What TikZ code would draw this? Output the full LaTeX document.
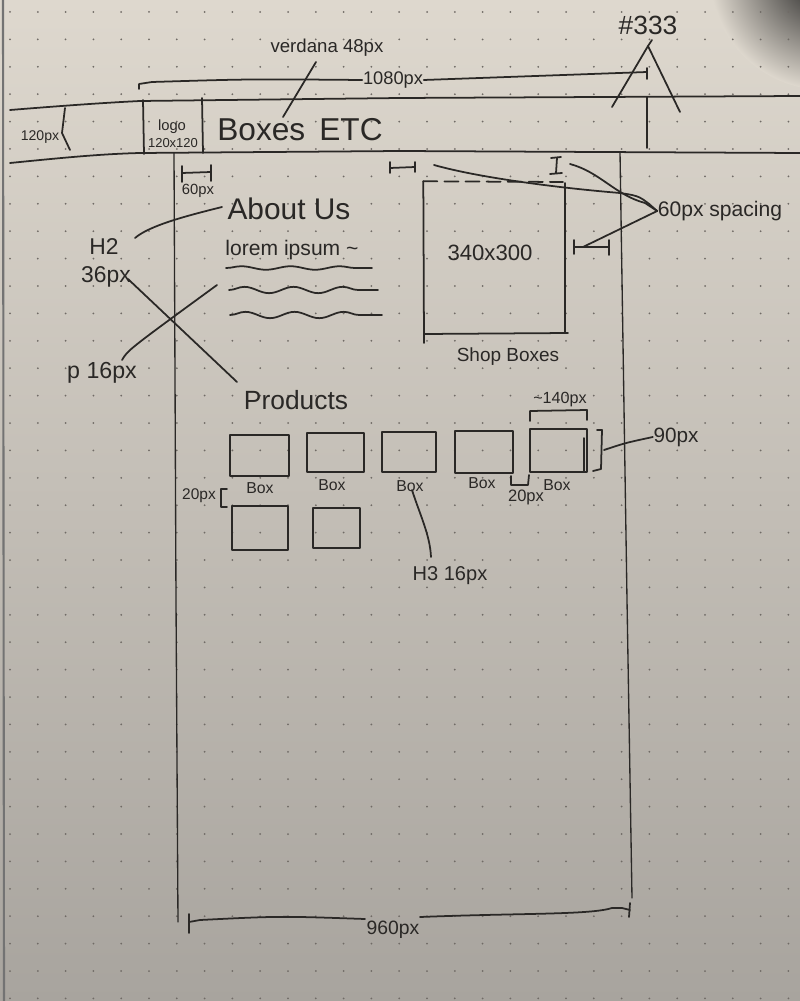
\documentclass[tikz,border=0pt]{standalone}
\usepackage{fontspec}
\setmainfont{Liberation Sans}
\usetikzlibrary{decorations.pathmorphing,calc}
\definecolor{paperTop}{RGB}{222,216,206}
\definecolor{paperBot}{RGB}{168,164,158}
\definecolor{ink}{RGB}{42,40,38}
\definecolor{dotc}{RGB}{112,107,102}
\newcommand{\hfs}[1]{\fontsize{#1pt}{#1pt}\selectfont}
\begin{document}
\begin{tikzpicture}[x=0.1mm,y=-0.1mm,
  inkline/.style={draw=ink, line width=0.5pt, line cap=round, line join=round},
  thinink/.style={draw=ink, line width=0.38pt, line cap=round, line join=round},
  lbl/.style={text=ink, inner sep=0pt, anchor=center},
  pbox/.style={inkline, inner sep=0pt},
  wave/.style={inkline, decorate, decoration={snake, amplitude=#1, segment length=14pt}}]
\useasboundingbox (0,0) rectangle (800,1001);
% paper
\shade[top color=paperTop, bottom color=paperBot] (0,0) rectangle (800,1001);
\begin{scope}
\clip (0,0) rectangle (800,1001);
\shade[inner color=black!90, outer color=paperTop] (825,-25) circle (115);
\end{scope}
\draw[black!55, line width=0.6pt] (3,0) -- (4,1001);
\foreach \i in {0,...,28}
  \foreach \j in {0,...,36}
    \fill[dotc] ({10+27.8*\i},{12+27.4*\j}) circle (1);

% header band
\draw[inkline] (10,110) .. controls (60,106) and (100,103) .. (140,101) -- (400,98) -- (800,96);
\draw[inkline] (10,163) .. controls (60,158) and (100,154) .. (140,153) -- (400,151) -- (800,153);
\draw[inkline] (143,100) -- (144,154);
\draw[inkline] (202,98) -- (203,153);
\draw[inkline] (647,97) -- (647,148);

% header texts
\node[lbl, font=\hfs{9}] (title) at (300,130) {Boxes\hspace{4pt}ETC};
\node[lbl, font=\hfs{4.2}] (logo) at (172,127) {logo};
\node[lbl, font=\hfs{3.7}] (logosize) at (173,143) {120x120};
\node[lbl, font=\hfs{4}] (h120) at (40,137) {120px};
\draw[inkline] (65,108) .. controls (63,120) .. (62,133) -- (70,150);

\node[lbl, font=\hfs{5.3}] (verdana) at (327,48) {verdana 48px};
\coordinate (vA) at (316,62);
\coordinate (vB) at (283,117);
\draw[inkline] (vA) -- (vB);

% 1080px dimension
\node[lbl, font=\hfs{5.2}] (w1080) at (393,80) {1080px};
\coordinate (d1080L) at (139,84);
\coordinate (d1080R) at (647,72);
\draw[inkline] (139,89) -- (d1080L) -- (152,82) .. controls (250,79) .. (w1080.west);
\draw[inkline] (w1080.east) -- (d1080R);
\draw[inkline] (647,68) -- (647,79);

% #333
\node[lbl, font=\hfs{7.5}] (c333) at (648,25) {\#333};
\coordinate (capL) at (612,107);
\coordinate (capT) at (648,46);
\coordinate (capR) at (680,112);
\draw[inkline] (capL) -- (capT) -- (capR);
\draw[inkline] (capT) -- (652,40);

% main container
\draw[thinink] (174,153) -- (176,600) -- (178,922);
\draw[thinink] (620,152) -- (627,600) -- (632,898);

% 960px dimension
\node[lbl, font=\hfs{5.5}] (w960) at (393,930) {960px};
\coordinate (d960L) at (189,922);
\coordinate (d960R) at (630,910);
\draw[inkline] (189,914) -- (189,933);
\draw[inkline] (d960L) -- (200,920) .. controls (280,916) .. (365,919);
\draw[inkline] (420,917) .. controls (520,913) and (590,915) .. (612,908) -- (622,908) -- (d960R);
\draw[inkline] (630,903) -- (629,917);

% 60px margin mark
\node[lbl, font=\hfs{4.2}] (p60) at (198,191) {60px};
\draw[inkline] (182,166) -- (182,182);
\draw[inkline] (182,173) -- (211,172);
\draw[inkline] (211,165) -- (211,181);

% About Us
\node[lbl, font=\hfs{8.5}] (about) at (289,209) {About Us};
\node[lbl, font=\hfs{6}] (lorem) at (292,250) {lorem ipsum \textasciitilde};
\draw[wave=0.5pt] (226,268) -- (372,268);
\draw[wave=0.9pt] (229,290) -- (378,290);
\draw[wave=0.9pt] (230,315) -- (382,315);

\node[lbl, font=\hfs{6.5}] (h2) at (104,247) {H2};
\node[lbl, font=\hfs{6.5}] (h2size) at (106,277) {36px};
\node[lbl, font=\hfs{6.6}] (p16) at (102,373) {p 16px};
\coordinate (h2a) at (135,238);
\coordinate (h2b) at (222,207);
\draw[inkline] (h2a) .. controls (150,225) and (190,215) .. (h2b);
\coordinate (h2c) at (128,279);
\coordinate (h2d) at (237,382);
\draw[inkline] (h2c) -- (h2d);
\coordinate (p16a) at (122,360);
\coordinate (p16b) at (217,285);
\draw[inkline] (p16a) .. controls (128,350) .. (p16b);

% Shop box
\node[inner sep=0pt, minimum width=14mm, minimum height=15.2mm] (shop) at (494,258) {};
\draw[inkline] (shop.north west) -- (424,343);
\draw[inkline] (424,334) -- (568,333);
\draw[inkline] (565,183) -- (565,333);
\draw[inkline, dash pattern=on 4pt off 2pt] (shop.north west) -- (563,182);
\node[lbl, font=\hfs{6.3}] (shopsize) at (490,253) {340x300};
\node[lbl, font=\hfs{5.4}] (shoplbl) at (508,357) {Shop Boxes};

% 60px spacing
\node[lbl, font=\hfs{6}] (spacing) at (720,211) {60px spacing};
\draw[inkline] (390,162) -- (390,173);
\draw[inkline] (390,168) -- (415,167);
\draw[inkline] (415,162) -- (415,172);
\draw[inkline] (551,158) -- (561,157);
\draw[inkline] (557,158) -- (556,173);
\draw[inkline] (550,174) -- (562,173);
\draw[inkline] (574,240) -- (574,254);
\draw[inkline] (574,247) -- (609,247);
\draw[inkline] (609,240) -- (609,255);
\coordinate (spA) at (434,165);
\coordinate (spB) at (570,164);
\coordinate (spC) at (583,247);
\draw[inkline] (spA) .. controls (480,178) and (560,188) .. (620,193) .. controls (640,196) .. (spacing.west);
\draw[inkline] (spB) .. controls (600,172) and (615,195) .. (645,203) -- (spacing.west);
\draw[inkline] (spacing.west) -- (spC);

% Products
\node[lbl, font=\hfs{7.5}] (products) at (296,400) {Products};
\node[pbox, minimum width=5.9mm, minimum height=4.1mm] (b1) at (259.5,455.5) {};
\node[pbox, minimum width=5.7mm, minimum height=3.9mm] (b2) at (335.5,452.5) {};
\node[pbox, minimum width=5.4mm, minimum height=4.0mm] (b3) at (409,452) {};
\node[pbox, minimum width=5.8mm, minimum height=4.2mm] (b4) at (484,452) {};
\node[pbox, minimum width=5.7mm, minimum height=4.3mm] (b5) at (558.5,450.5) {};
\node[pbox, minimum width=5.6mm, minimum height=4.4mm] (b6) at (260,528) {};
\node[pbox, minimum width=4.7mm, minimum height=4.0mm] (b7) at (336.5,528) {};
\draw[inkline] ($(b5.north east)+(-4,10)$) -- ($(b5.south east)+(-4,-2)$);

\node[lbl, font=\hfs{4.5}] (l1) at (260,488) {Box};
\node[lbl, font=\hfs{4.5}] (l2) at (332,485) {Box};
\node[lbl, font=\hfs{4.5}] (l3) at (410,486) {Box};
\node[lbl, font=\hfs{4.5}] (l4) at (482,483) {Box};
\node[lbl, font=\hfs{4.5}] (l5) at (557,485) {Box};

% ~140px
\node[lbl, font=\hfs{4.6}] (w140) at (560,400) {\textasciitilde140px};
\draw[inkline] (530,421) -- (530,411) -- (587,410) -- (587,420);

% 90px
\node[lbl, font=\hfs{5.9}] (h90) at (676,437) {90px};
\draw[inkline] (597,430) -- (602,430) -- (601,469) -- (593,471);
\coordinate (h90a) at (604,450);
\draw[inkline] (h90a) .. controls (625,443) .. (h90.west);

% 20px gaps
\node[lbl, font=\hfs{4.7}] (g20) at (526,497) {20px};
\draw[inkline] (511,476) -- (511,485) -- (528,485) -- (529,475);
\node[lbl, font=\hfs{4.4}] (g20b) at (199,496) {20px};
\draw[inkline] (227,489) -- (221,489) -- (221,507) -- (227,507);

% H3
\node[lbl, font=\hfs{5.7}] (h3) at (450,576) {H3 16px};
\coordinate (h3a) at (412,490);
\coordinate (h3b) at (431,557);
\draw[inkline] (h3a) .. controls (420,515) and (430,535) .. (h3b);
\end{tikzpicture}
\end{document}
